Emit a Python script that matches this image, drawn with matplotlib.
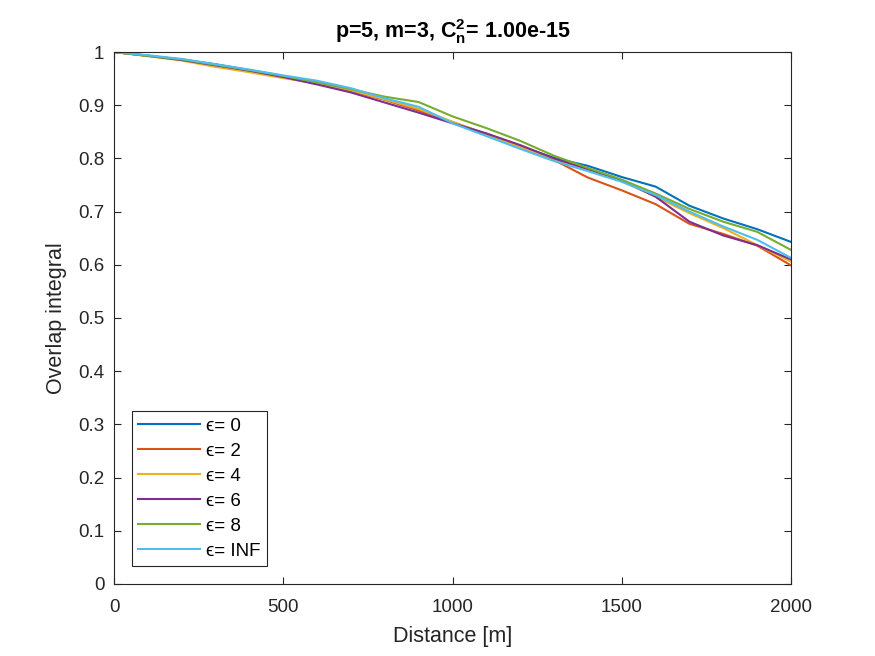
import numpy as np
import matplotlib
matplotlib.use('Agg')
import matplotlib.pyplot as plt

plt.rcParams['font.family'] = ['Liberation Sans', 'DejaVu Sans']
plt.rcParams['mathtext.fontset'] = 'custom'
plt.rcParams['mathtext.rm'] = 'Liberation Sans'
plt.rcParams['mathtext.bf'] = 'Liberation Sans:bold'

# distance in metres, one sample every 100 m
distance = np.arange(0, 2001, 100)

eps_labels = ['0', '2', '4', '6', '8', 'INF']

ov_eps0 = [1.000, 0.993, 0.986, 0.977, 0.966, 0.955, 0.943, 0.929, 0.911, 0.892, 0.868,
           0.846, 0.823, 0.801, 0.786, 0.765, 0.747, 0.711, 0.687, 0.667, 0.643]
ov_eps2 = [1.000, 0.993, 0.985, 0.975, 0.964, 0.952, 0.941, 0.927, 0.910, 0.890, 0.867,
           0.846, 0.823, 0.797, 0.764, 0.740, 0.714, 0.677, 0.658, 0.636, 0.599]
ov_eps4 = [1.000, 0.992, 0.984, 0.972, 0.962, 0.951, 0.941, 0.928, 0.911, 0.893, 0.869,
           0.846, 0.821, 0.798, 0.778, 0.757, 0.728, 0.697, 0.669, 0.637, 0.606]
ov_eps6 = [1.000, 0.993, 0.985, 0.975, 0.965, 0.953, 0.939, 0.924, 0.905, 0.886, 0.866,
           0.847, 0.825, 0.800, 0.780, 0.759, 0.728, 0.681, 0.655, 0.637, 0.610]
ov_eps8 = [1.000, 0.993, 0.986, 0.976, 0.966, 0.955, 0.943, 0.930, 0.916, 0.906, 0.879,
           0.857, 0.833, 0.805, 0.782, 0.760, 0.734, 0.705, 0.681, 0.662, 0.628]
ov_epsinf = [1.000, 0.994, 0.987, 0.977, 0.967, 0.956, 0.946, 0.932, 0.913, 0.897, 0.866,
             0.842, 0.818, 0.795, 0.776, 0.756, 0.731, 0.700, 0.672, 0.647, 0.613]

series = [ov_eps0, ov_eps2, ov_eps4, ov_eps6, ov_eps8, ov_epsinf]
colors = ['#0072BD', '#D95319', '#EDB120', '#7E2F8E', '#77AC30', '#4DBEEE']

fig = plt.figure(figsize=(8.75, 6.56), dpi=100)
ax = fig.add_axes([0.1303, 0.1098, 0.7737, 0.8109])

for vals, lab, c in zip(series, eps_labels, colors):
    ax.plot(distance, vals, color=c, lw=1.5, label='\u03f5= ' + lab)

ax.set_xlim(0, 2000)
ax.set_ylim(0, 1)
ax.set_xticks(np.arange(0, 2001, 500))
ax.set_yticks(np.arange(0, 1.01, 0.1))
ax.set_yticklabels(['0', '0.1', '0.2', '0.3', '0.4', '0.5', '0.6', '0.7', '0.8', '0.9', '1'])
ax.tick_params(direction='in', top=True, right=True, labelsize=13.5, colors='#262626',
               length=5, width=0.8)
ax.tick_params(axis='x', pad=11)
ax.tick_params(axis='y', pad=7)
for s in ax.spines.values():
    s.set_color('#262626')
    s.set_linewidth(0.8)

ax.set_xlabel('Distance [m]', fontsize=15.5, color='#262626', labelpad=7)
ax.set_ylabel('Overlap integral', fontsize=15.5, color='#262626', labelpad=8)
ax.set_title(r'p=5, m=3, $\mathbf{C_n^2}$= 1.00e-15', fontsize=15.5, fontweight='bold', pad=10)

leg = ax.legend(loc='lower left', fontsize=13.5, fancybox=False, edgecolor='#262626',
                framealpha=1, handlelength=3.3, borderaxespad=0.95, labelspacing=0.42,
                handletextpad=0.3, borderpad=0.35)
leg.get_frame().set_linewidth(0.8)

fig.savefig('out.png', dpi=100)
